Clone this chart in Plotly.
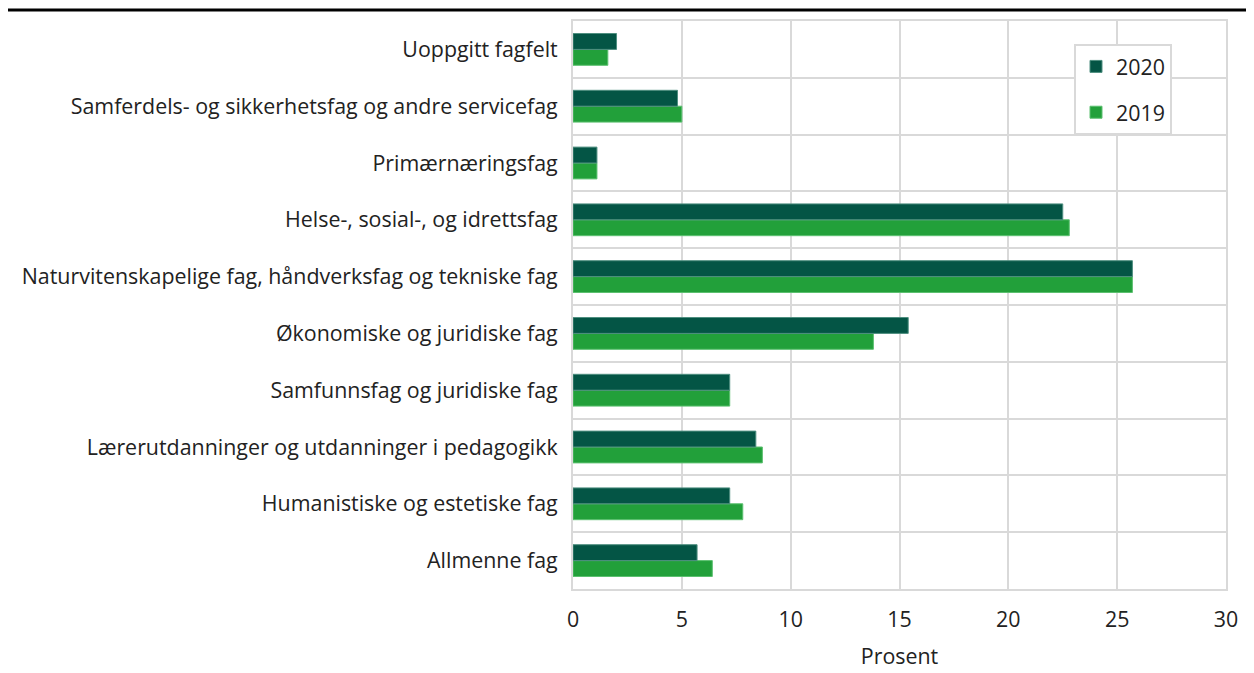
import plotly.graph_objects as go

categories = [
    "Uoppgitt fagfelt",
    "Samferdels- og sikkerhetsfag og andre servicefag",
    "Primærnæringsfag",
    "Helse-, sosial-, og idrettsfag",
    "Naturvitenskapelige fag, håndverksfag og tekniske fag",
    "Økonomiske og juridiske fag",
    "Samfunnsfag og juridiske fag",
    "Lærerutdanninger og utdanninger i pedagogikk",
    "Humanistiske og estetiske fag",
    "Allmenne fag",
]
values_2020 = [2.0, 4.8, 1.1, 22.5, 25.7, 15.4, 7.2, 8.4, 7.2, 5.7]
values_2019 = [1.6, 5.0, 1.1, 22.8, 25.7, 13.8, 7.2, 8.7, 7.8, 6.4]
x_ticks = [0, 5, 10, 15, 20, 25, 30]

n = len(categories)
ypos = [n - 1 - i for i in range(n)]

fig = go.Figure()
fig.add_trace(go.Bar(
    y=ypos, x=values_2019, orientation="h", name="2019",
    marker=dict(color="#22a03a", line=dict(color="#5cc070", width=1)),
    legendgroup="b", legendrank=2,
))
fig.add_trace(go.Bar(
    y=ypos, x=values_2020, orientation="h", name="2020",
    marker=dict(color="#045545", line=dict(color="#4f8f80", width=1)),
    legendgroup="a", legendrank=1,
))

grid = "#d9d9d9"
# page has an 8px body margin; figure coordinates are offset accordingly
L, R, T, B = 565, 1218, 13, 581
W, H = 1246, 665
FS = 21.4
fig.update_layout(
    width=W, height=H,
    margin=dict(l=L, r=W - R, t=T, b=H - B, autoexpand=False),
    paper_bgcolor="white", plot_bgcolor="white",
    barmode="group", bargap=0.44, bargroupgap=0,
    font=dict(family="Open Sans", size=FS, color="#222222"),
    showlegend=True,
    legend=dict(
        x=(1066 - L) / (R - L), y=(B - 36) / (B - T), xanchor="left", yanchor="top",
        bgcolor="white", bordercolor=grid, borderwidth=2,
        traceorder="grouped", tracegroupgap=15,
        font=dict(size=FS, color="#222222"),
        itemwidth=30,
    ),
    xaxis=dict(
        range=[0, 30], tickvals=x_ticks, ticktext=[str(v) for v in x_ticks],
        showgrid=True, gridcolor=grid, gridwidth=2,
        showline=True, linecolor=grid, linewidth=2, mirror=True,
        zeroline=False, ticks="", ticklabelstandoff=10, automargin=False,
        title=dict(text="Prosent", standoff=17, font=dict(size=FS)),
    ),
    yaxis=dict(
        range=[-0.5, n - 0.5], tickvals=ypos, ticktext=categories,
        showgrid=False, zeroline=False, automargin=False,
        showline=True, linecolor=grid, linewidth=2, mirror=True,
        ticks="", ticklabelstandoff=9,
        minor=dict(tickvals=[i - 0.5 for i in range(n + 1)], showgrid=True,
                   gridcolor=grid, gridwidth=2, ticks=""),
    ),
    shapes=[dict(
        type="rect", xref="paper", yref="paper", layer="above",
        x0=-L / (R - L), x1=(W - L) / (R - L),
        y0=(B - 0.5) / (B - T), y1=(B - 3.5) / (B - T),
        fillcolor="black", line=dict(width=0),
    )],
)

fig.write_html("out.html")
